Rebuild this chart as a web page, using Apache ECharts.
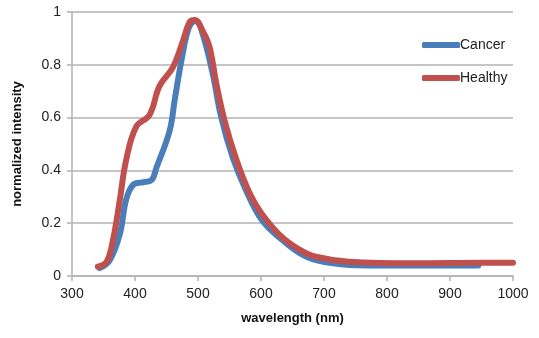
<!DOCTYPE html>
<html>
<head>
<meta charset="utf-8">
<script src="https://cdn.jsdelivr.net/npm/echarts@6/dist/echarts.min.js"></script>
<style>
  html, body { margin: 0; padding: 0; background: #fff; }
  #chart { width: 539px; height: 338px; }
</style>
</head>
<body>
<div id="chart"></div>
<script>
// Emission spectra (wavelength nm, normalized intensity).
const cancerWl  = [344, 360, 376, 386, 397, 412, 426, 434, 455, 463, 474, 484, 492, 497, 507, 523, 537, 555, 576, 602, 634, 661, 687, 740, 800, 870, 945];
const cancerVal = [0.03, 0.06, 0.16, 0.29, 0.345, 0.355, 0.363, 0.41, 0.55, 0.667, 0.82, 0.93, 0.963, 0.965, 0.92, 0.77, 0.60, 0.45, 0.326, 0.21, 0.136, 0.087, 0.06, 0.042, 0.04, 0.04, 0.04];

const healthyWl  = [341, 355, 365, 376, 386, 402, 423, 439, 460, 476, 487, 495, 507, 518, 529, 542, 561, 582, 600, 630, 661, 687, 740, 845, 950, 1000];
const healthyVal = [0.035, 0.054, 0.136, 0.29, 0.44, 0.566, 0.61, 0.72, 0.79, 0.89, 0.963, 0.97, 0.93, 0.87, 0.73, 0.59, 0.44, 0.313, 0.24, 0.155, 0.1, 0.073, 0.054, 0.048, 0.05, 0.05];

const xTicks = { min: 300, max: 1000, step: 100 };
const yTicks = { min: 0, max: 1, step: 0.2 };

const pairs = (xs, ys) => xs.map((x, i) => [x, ys[i]]);
const font = "'Liberation Sans', Arial, sans-serif";
const gridGray = "#b3b3b3";

const chart = echarts.init(document.getElementById("chart"));
chart.setOption({
  animation: false,
  textStyle: { fontFamily: font },
  grid: { left: 72, right: 26, top: 12, bottom: 62 },
  legend: {
    orient: "vertical",
    left: 417, top: 33,
    itemGap: 19,
    itemWidth: 38, itemHeight: 6,
    icon: "roundRect",
    textStyle: { fontSize: 14, color: "#222", padding: [0, 0, 0, -5] },
    data: ["Cancer", "Healthy"]
  },
  xAxis: {
    type: "value",
    min: xTicks.min, max: xTicks.max, interval: xTicks.step,
    name: "wavelength (nm)",
    nameLocation: "middle", nameGap: 36,
    nameTextStyle: { fontWeight: "bold", fontSize: 13, color: "#111" },
    axisLine: { show: true, lineStyle: { color: gridGray, width: 1.5 } },
    axisTick: { show: true, length: 5, lineStyle: { color: gridGray, width: 1.5 } },
    axisLabel: { fontSize: 14, color: "#222", margin: 11, formatter: (v) => String(v) },
    splitLine: { show: false }
  },
  yAxis: {
    type: "value",
    min: yTicks.min, max: yTicks.max, interval: yTicks.step,
    name: "normalized intensity",
    nameLocation: "middle", nameGap: 48,
    nameTextStyle: { fontWeight: "bold", fontSize: 13, color: "#111" },
    axisLine: { show: true, lineStyle: { color: gridGray, width: 1.5 } },
    axisTick: { show: true, length: 5, lineStyle: { color: gridGray, width: 1.5 } },
    axisLabel: { fontSize: 14, color: "#222", margin: 11, formatter: (v) => String(v) },
    splitLine: { show: true, lineStyle: { color: gridGray, width: 1.5 } }
  },
  series: [
    {
      name: "Cancer", type: "line", smooth: 0.4, showSymbol: false,
      color: "#4a7ebb",
      lineStyle: { width: 6, cap: "round", join: "round" },
      data: pairs(cancerWl, cancerVal)
    },
    {
      name: "Healthy", type: "line", smooth: 0.4, showSymbol: false,
      color: "#c0504d",
      lineStyle: { width: 6, cap: "round", join: "round" },
      data: pairs(healthyWl, healthyVal)
    }
  ]
});
</script>
</body>
</html>
